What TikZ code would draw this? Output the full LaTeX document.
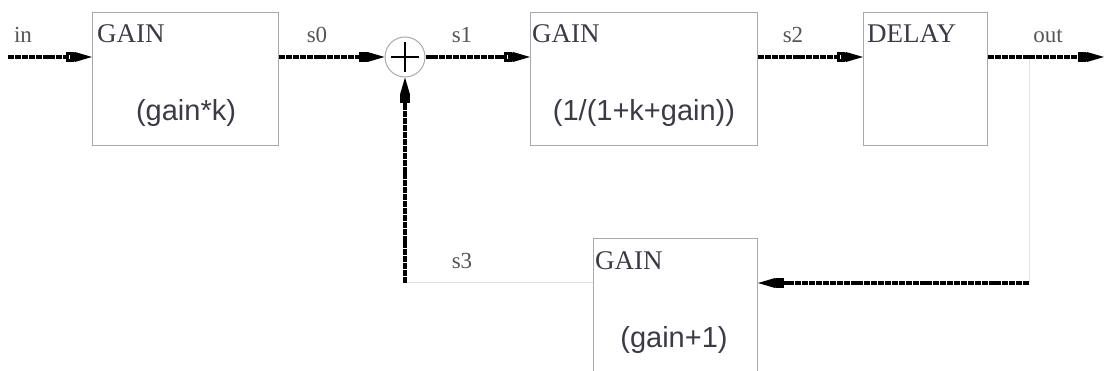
\documentclass[tikz,border=0pt]{standalone}
\usepackage{fontspec}
\setmainfont{Liberation Serif}
\newfontfamily\arialf{Liberation Sans}
\usetikzlibrary{arrows.meta}
\definecolor{boxgray}{HTML}{AAAAAA}
\definecolor{faint}{HTML}{E2E2E2}
\definecolor{txt}{HTML}{3A3A48}
\definecolor{lbl}{HTML}{555555}
\tikzset{
  blk/.style={draw=boxgray, line width=1pt, rectangle, inner sep=0pt, anchor=north west},
  sig/.style={line width=4.5pt, dash pattern=on 6pt off 0.9pt,
    -{Square[open,length=8pt,width=10pt,line width=3pt,sep=-4pt]Kite[length=22pt,width=10pt,inset=5pt]}},
  thinline/.style={draw=faint, line width=1pt},
  ttl/.style={anchor=base west, inner sep=0pt, font=\fontsize{27}{30}\selectfont, text=txt},
  lab/.style={anchor=base, inner sep=0pt, font=\fontsize{23}{26}\selectfont, text=lbl},
  expr/.style={anchor=base, inner sep=0pt, font=\arialf\fontsize{29}{32}\selectfont, text=txt},
}
\begin{document}
\begin{tikzpicture}[x=1pt,y=-1pt]
\useasboundingbox (0,0) rectangle (1104,371);
% blocks
\node[blk, minimum width=186pt, minimum height=133pt] (b1) at (92,12) {};
\node[blk, minimum width=227pt, minimum height=133pt] (b2) at (530,12) {};
\node[blk, minimum width=124pt, minimum height=133pt] (b3) at (863,12) {};
\node[blk, minimum width=164pt, minimum height=150pt] (b4) at (593,238) {};
% adder
\node[circle, draw=boxgray, line width=1pt, minimum size=40pt, inner sep=0pt] (add) at (405,57) {};
\draw[line width=1.6pt] ([xshift=-14pt]add.center) -- ([xshift=14pt]add.center);
\draw[line width=1.6pt] ([yshift=-15pt]add.center) -- ([yshift=15pt]add.center);
% texts
\node[ttl] (t1) at (97,43) {GAIN};
\node[ttl] (t2) at (532,43) {GAIN};
\node[ttl] (t3) at (867,43) {DELAY};
\node[ttl] (t4) at (595,270) {GAIN};
\node[expr] (e1) at (186,121) {(gain*k)};
\node[expr] (e2) at (644,121) {(1/(1+k+gain))};
\node[expr] (e4) at (674,348) {(gain+1)};
\node[lab] (lin) at (23,43) {in};
\node[lab] (ls0) at (317,43) {s0};
\node[lab] (ls1) at (462,43) {s1};
\node[lab] (ls2) at (793,43) {s2};
\node[lab] (lout) at (1048,43) {out};
\node[lab] (ls3) at (462,269) {s3};
% coordinates
\coordinate (inL) at (8,57);
\coordinate (outR) at (1104,57);
\coordinate (br) at (1029,57);
\coordinate (br2) at (1029,283);
% connectors
\draw[thinline] (br) -- (br2);
\draw[thinline] (b4.west |- br2) -- (add |- br2);
\draw[sig] (inL) -- (inL -| b1.west);
\draw[sig] (add -| b1.east) -- (add.west);
\draw[sig] (add.east) -- (add -| b2.west);
\draw[sig] (add -| b2.east) -- (add -| b3.west);
\draw[sig] (add -| b3.east) -- (outR);
\draw[sig] (br2) -- (br2 -| b4.east);
\draw[sig] (add |- br2) -- (add.south);
\end{tikzpicture}
\end{document}
